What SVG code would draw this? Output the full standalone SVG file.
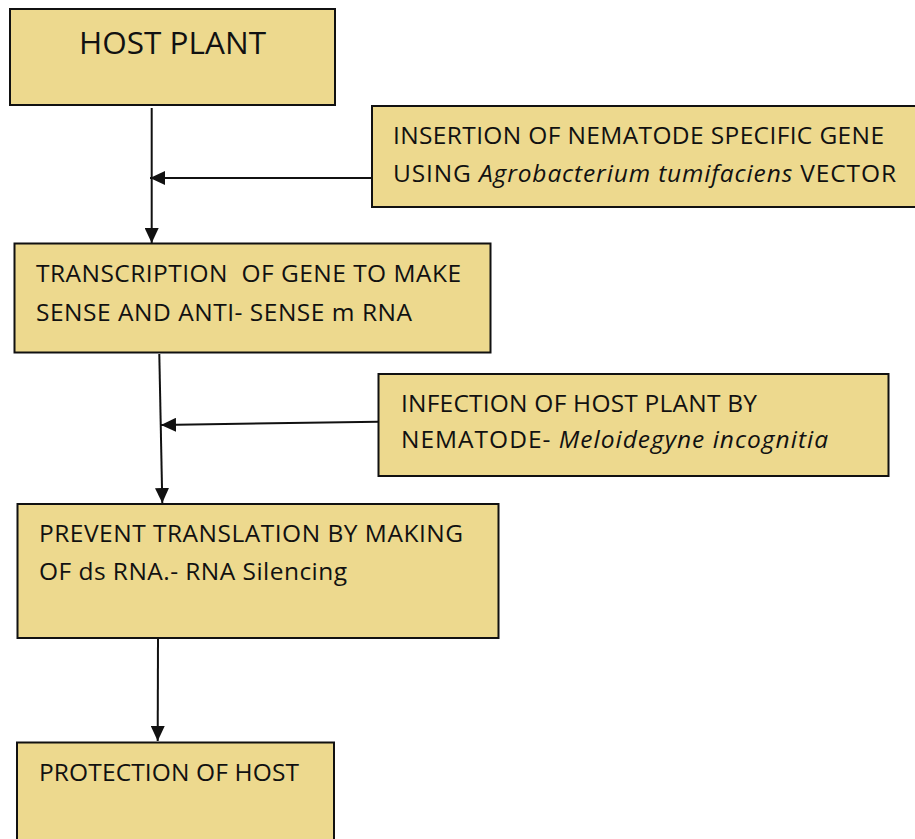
<svg xmlns="http://www.w3.org/2000/svg" width="915" height="839" viewBox="0 0 915 839">
<style>
.box{fill:#EDD98E;stroke:#111;stroke-width:2}
.t{font-family:"Open Sans",Lato,"Liberation Sans",sans-serif;font-size:24.5px;fill:#111;white-space:pre}
.big{font-size:31.5px}
.it{font-style:italic}
.c{stroke:#111;stroke-width:2;fill:none}
</style>
<defs>
<marker id="ah" markerUnits="userSpaceOnUse" viewBox="0 0 15 14" markerWidth="15" markerHeight="14" refX="15" refY="7" orient="auto">
<path d="M0,0 L15,7 L0,14 z" fill="#111"/>
</marker>
</defs>
<rect width="915" height="839" fill="#fff"/>
<g id="host-plant">
<rect class="box" x="10" y="9" width="325" height="96"/>
<text class="t big" x="79" y="54" textLength="187" lengthAdjust="spacing">HOST PLANT</text>
</g>
<g id="insertion">
<rect class="box" x="372" y="106" width="550" height="101"/>
<text class="t" x="393" y="144" textLength="491" lengthAdjust="spacing">INSERTION OF NEMATODE SPECIFIC GENE</text>
<text class="t" x="393" y="182" textLength="503" lengthAdjust="spacing">USING <tspan class="it">Agrobacterium tumifaciens</tspan> VECTOR</text>
</g>
<g id="transcription">
<rect class="box" x="14.5" y="243.5" width="476" height="109"/>
<text class="t" x="36" y="282" textLength="425" lengthAdjust="spacing" xml:space="preserve">TRANSCRIPTION  OF GENE TO MAKE</text>
<text class="t" x="36" y="321" textLength="376" lengthAdjust="spacing">SENSE AND ANTI- SENSE m RNA</text>
</g>
<g id="infection">
<rect class="box" x="378.5" y="374" width="510" height="102"/>
<text class="t" x="401" y="412" textLength="356" lengthAdjust="spacing">INFECTION OF HOST PLANT BY</text>
<text class="t" x="401" y="448" textLength="427" lengthAdjust="spacing">NEMATODE- <tspan class="it">Meloidegyne incognitia</tspan></text>
</g>
<g id="prevent">
<rect class="box" x="17.5" y="504" width="481" height="134"/>
<text class="t" x="39" y="542" textLength="424" lengthAdjust="spacing">PREVENT TRANSLATION BY MAKING</text>
<text class="t" x="39" y="580" textLength="308" lengthAdjust="spacing">OF ds RNA.- RNA Silencing</text>
</g>
<g id="protection">
<rect class="box" x="17" y="742.5" width="317" height="110"/>
<text class="t" x="39" y="781" textLength="260" lengthAdjust="spacing">PROTECTION OF HOST</text>
</g>
<g id="connectors">
<line class="c" x1="151.7" y1="108" x2="151.7" y2="243" marker-end="url(#ah)"/>
<line class="c" x1="372" y1="178" x2="150" y2="178" marker-end="url(#ah)"/>
<line class="c" x1="159.3" y1="354" x2="162.3" y2="503" marker-end="url(#ah)"/>
<line class="c" x1="378.3" y1="421.7" x2="161" y2="425" marker-end="url(#ah)"/>
<line class="c" x1="158" y1="637" x2="157.7" y2="741" marker-end="url(#ah)"/>
</g>
</svg>
